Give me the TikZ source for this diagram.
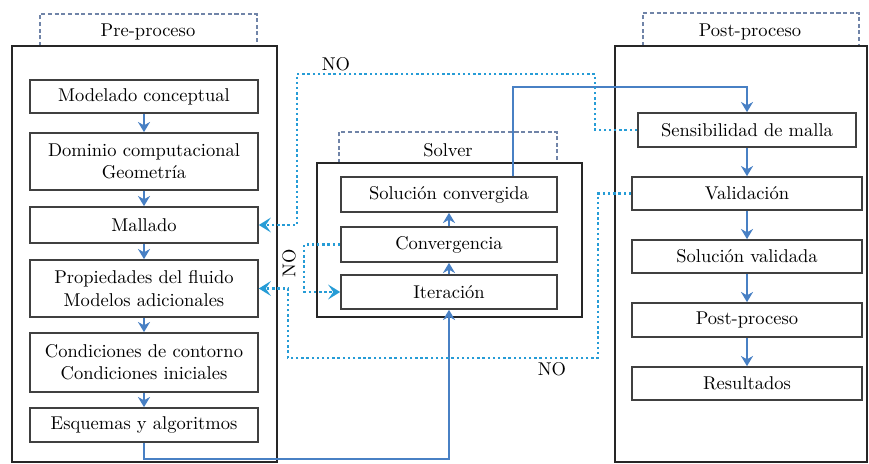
\documentclass[tikz,border=0pt]{standalone}
\usepackage{tikz}
\usetikzlibrary{arrows.meta,positioning,calc}
\definecolor{FlowBlue}{RGB}{72,128,196}
\definecolor{NoCyan}{RGB}{38,156,214}
\definecolor{TabGray}{RGB}{112,132,168}
\def\pxu{0.019cm}
\tikzset{
  stage/.style={draw=black!75,line width=.9pt,fill=white,align=center,inner sep=1pt},
  frame/.style={draw=black!85,line width=1.1pt},
  tab/.style={draw=TabGray,line width=.8pt,dashed,dash pattern=on 2.2pt off 1.4pt},
  flow/.style={draw=FlowBlue,line width=1.3pt,-{Stealth[length=5.5pt,width=6.5pt,inset=1.8pt]}},
  noflow/.style={draw=NoCyan,line width=1.4pt,dash pattern=on 1.3pt off 1.5pt,
    -{Stealth[length=6.5pt,width=8pt,inset=2.8pt]}},
  nolbl/.style={font=\normalsize}
}
\begin{document}
\begin{tikzpicture}[x=.019cm,y=-.019cm]
  \useasboundingbox (0,0) rectangle (869,464);
  \draw[tab] (40,46) |- (257,14) -- (257,46);
  \draw[tab] (339,163) |- (557,132) -- (557,163);
  \draw[tab] (643,46) |- (859,13) -- (859,46);
  \draw[frame,fill=white] (12,46) rectangle (277,462);
  \draw[frame,fill=white] (317,163) rectangle (582,317);
  \draw[frame,fill=white] (615,46) rectangle (867,462);
  \node (pretab) at (148,32) {Pre-proceso};
  \node (soltab) at (448,150) {Solver};
  \node (posttab) at (750,32) {Post-proceso};

  \node[stage,minimum width=228*\pxu,minimum height=33*\pxu] (model) at (144,96.5) {Modelado conceptual};
  \node[stage,minimum width=228*\pxu,minimum height=57*\pxu] (dom) at (144,161.5) {Dominio computacional\\Geometría};
  \node[stage,minimum width=228*\pxu,minimum height=36*\pxu] (mall) at (144,225) {Mallado};
  \node[stage,minimum width=228*\pxu,minimum height=57*\pxu] (prop) at (144,288.5) {Propiedades del fluido\\Modelos adicionales};
  \node[stage,minimum width=228*\pxu,minimum height=59*\pxu] (cond) at (144,362.5) {Condiciones de contorno\\Condiciones iniciales};
  \node[stage,minimum width=228*\pxu,minimum height=34*\pxu] (esq) at (144,425) {Esquemas y algoritmos};

  \node[stage,minimum width=216*\pxu,minimum height=35*\pxu] (solconv) at (449,194.5) {Solución convergida};
  \node[stage,minimum width=216*\pxu,minimum height=35*\pxu] (conv) at (449,244.5) {Convergencia};
  \node[stage,minimum width=216*\pxu,minimum height=34*\pxu] (iter) at (449,292) {Iteración};

  \node[stage,minimum width=218*\pxu,minimum height=34*\pxu] (sens) at (747,130) {Sensibilidad de malla};
  \node[stage,minimum width=230*\pxu,minimum height=33*\pxu] (val) at (747,193.5) {Validación};
  \node[stage,minimum width=230*\pxu,minimum height=33*\pxu] (solval) at (747,256.5) {Solución validada};
  \node[stage,minimum width=230*\pxu,minimum height=34*\pxu] (postp) at (747,320) {Post-proceso};
  \node[stage,minimum width=230*\pxu,minimum height=33*\pxu] (res) at (747,383.5) {Resultados};

  \draw[flow] (model) -- (dom);
  \draw[flow] (dom) -- (mall);
  \draw[flow] (mall) -- (prop);
  \draw[flow] (prop) -- (cond);
  \draw[flow] (cond) -- (esq);
  \draw[flow] (esq.south) -- ++(0,16) -| (iter.south);
  \draw[flow] (iter) -- (conv);
  \draw[flow] (conv) -- (solconv);
  \draw[flow] ([xshift=64*\pxu]solconv.north) |- ([yshift=25*\pxu]sens.north) -- (sens.north);
  \draw[flow] (sens) -- (val);
  \draw[flow] (val) -- (solval);
  \draw[flow] (solval) -- (postp);
  \draw[flow] (postp) -- (res);

  \draw[noflow] (sens.west) -| (595,74) -- (297,74) |- (mall.east);
  \draw[noflow] (val.west) -| (598,358) -- (288,358) |- (prop.east);
  \draw[noflow] (conv.west) -- ++(-36,0) |- (iter.west);
  \node[nolbl] (no1) at (336,64) {NO};
  \node[nolbl] (no2) at (552,369) {NO};
  \node[nolbl,rotate=90] (no3) at (289,263) {NO};
\end{tikzpicture}
\end{document}
